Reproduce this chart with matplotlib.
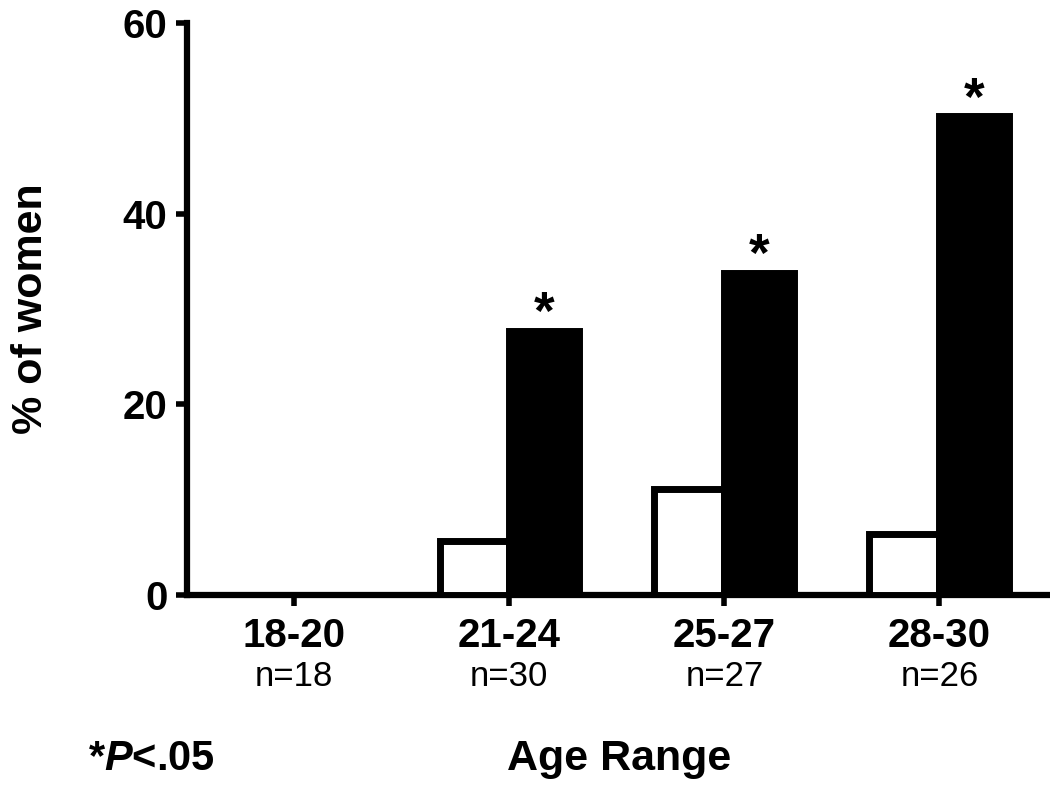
import numpy as np
import matplotlib
matplotlib.use("Agg")
import matplotlib.pyplot as plt
import matplotlib.transforms as mtransforms

plt.rcParams['font.family'] = ['Liberation Sans', 'DejaVu Sans']
plt.rcParams['mathtext.fontset'] = 'custom'
plt.rcParams['mathtext.rm'] = 'Liberation Sans:bold'
plt.rcParams['mathtext.it'] = 'Liberation Sans:bold:italic'

# data
age_ranges = ['18-20', '21-24', '25-27', '28-30']
n_counts = ['n=18', 'n=30', 'n=27', 'n=26']
white_vals = [0, 5.6, 11.1, 6.4]
black_vals = [0, 27.7, 33.8, 50.2]
significant = [False, True, True, True]

x = np.arange(len(age_ranges))
w = 0.325

fig = plt.figure(figsize=(10.5, 7.91), dpi=100)
ax = fig.add_axes([0.178, 0.248, 0.819, 0.723])

ax.bar(x, white_vals, width=-w, align='edge', color='white', edgecolor='black',
       linewidth=5, zorder=3)
ax.bar(x, black_vals, width=w, align='edge', color='black', edgecolor='black',
       linewidth=5, zorder=3)

# significance stars
for xi, h, sig in zip(x, black_vals, significant):
    if sig:
        ax.annotate('*', xy=(xi + w / 2, h), xytext=(0, 1), textcoords='offset points',
                    ha='center', va='baseline', fontsize=38, fontweight='bold')

ax.set_xlim(-0.5, 3.5)
ax.set_ylim(0, 60)
ax.set_yticks([0, 20, 40, 60])
ax.set_xticks(x)
ax.set_xticklabels([])

for side in ['top', 'right']:
    ax.spines[side].set_visible(False)
ax.spines['left'].set_linewidth(4.5)
ax.spines['bottom'].set_linewidth(4.5)
ax.tick_params(axis='y', length=8, width=4, pad=6, labelsize=29)
ax.tick_params(axis='x', length=8, width=4)
for lbl in ax.get_yticklabels():
    lbl.set_fontweight('bold')

# group labels below the axis
trans = mtransforms.blended_transform_factory(ax.transData, ax.transAxes)
for xi, name, n in zip(x, age_ranges, n_counts):
    ax.text(xi, -0.072, name, transform=trans, ha='center', va='center',
            fontsize=29, fontweight='bold')
    ax.text(xi, -0.142, n, transform=trans, ha='center', va='center', fontsize=25)

ax.set_ylabel('% of women', fontsize=31, fontweight='bold')
ax.yaxis.set_label_coords(-0.158, 0.5)

fig.text(0.590, 0.040, 'Age Range', ha='center', va='center', fontsize=31,
         fontweight='bold')
fig.text(0.084, 0.040, r'*$P$<.05', ha='left', va='center', fontsize=30,
         fontweight='bold')

fig.savefig('out.png', dpi=100)
